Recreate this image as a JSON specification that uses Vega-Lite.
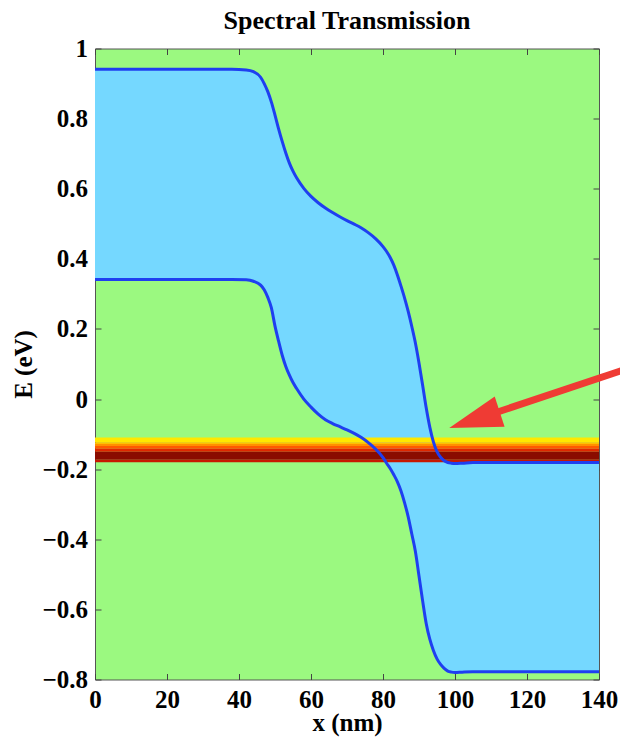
{
  "$schema": "https://vega.github.io/schema/vega-lite/v6.json",
  "width": 504,
  "height": 631,
  "autosize": {"type": "none"},
  "padding": {"left": 95, "top": 48.5, "right": 21, "bottom": 58.5},
  "background": "white",
  "view": {"fill": "#9BF980", "stroke": "#555555", "strokeWidth": 1},
  "title": {"text": "Spectral Transmission", "font": "Liberation Serif", "fontSize": 26, "fontWeight": "bold", "color": "black", "baseline": "alphabetic", "offset": 7.5, "dy": 26, "anchor": "middle"},
  "config": {
    "axis": {"labelFont": "Liberation Serif", "labelFontSize": 25, "labelFontWeight": "bold", "labelColor": "black", "titleFont": "Liberation Serif", "titleFontSize": 25, "titleFontWeight": "bold", "titleColor": "black", "tickSize": -6, "tickColor": "#444444", "tickWidth": 1, "domain": false, "grid": false, "zindex": 1, "labelOverlap": false, "labelFlush": false}
  },
  "datasets": {
    "curves": [
      {"x": 0, "upper": 0.941, "lower": 0.341},
      {"x": 10, "upper": 0.941, "lower": 0.341},
      {"x": 20, "upper": 0.941, "lower": 0.341},
      {"x": 30, "upper": 0.941, "lower": 0.341},
      {"x": 38, "upper": 0.941, "lower": 0.341},
      {"x": 42, "upper": 0.939, "lower": 0.340},
      {"x": 44, "upper": 0.934, "lower": 0.336},
      {"x": 46, "upper": 0.918, "lower": 0.325},
      {"x": 47, "upper": 0.900, "lower": 0.312},
      {"x": 48, "upper": 0.877, "lower": 0.290},
      {"x": 49, "upper": 0.847, "lower": 0.260},
      {"x": 50, "upper": 0.810, "lower": 0.208},
      {"x": 51, "upper": 0.771, "lower": 0.165},
      {"x": 52, "upper": 0.735, "lower": 0.125},
      {"x": 53, "upper": 0.702, "lower": 0.093},
      {"x": 54, "upper": 0.673, "lower": 0.068},
      {"x": 55, "upper": 0.650, "lower": 0.047},
      {"x": 56, "upper": 0.631, "lower": 0.030},
      {"x": 58, "upper": 0.601, "lower": 0.000},
      {"x": 60, "upper": 0.578, "lower": -0.023},
      {"x": 62, "upper": 0.560, "lower": -0.043},
      {"x": 64, "upper": 0.545, "lower": -0.059},
      {"x": 66, "upper": 0.532, "lower": -0.070},
      {"x": 68, "upper": 0.520, "lower": -0.079},
      {"x": 70, "upper": 0.509, "lower": -0.088},
      {"x": 72, "upper": 0.499, "lower": -0.098},
      {"x": 74, "upper": 0.488, "lower": -0.110},
      {"x": 76, "upper": 0.474, "lower": -0.125},
      {"x": 78, "upper": 0.457, "lower": -0.143},
      {"x": 80, "upper": 0.435, "lower": -0.167},
      {"x": 81, "upper": 0.421, "lower": -0.183},
      {"x": 82, "upper": 0.404, "lower": -0.198},
      {"x": 83, "upper": 0.382, "lower": -0.216},
      {"x": 84, "upper": 0.354, "lower": -0.236},
      {"x": 85, "upper": 0.322, "lower": -0.262},
      {"x": 86, "upper": 0.288, "lower": -0.296},
      {"x": 87, "upper": 0.250, "lower": -0.336},
      {"x": 88, "upper": 0.207, "lower": -0.385},
      {"x": 89, "upper": 0.160, "lower": -0.435},
      {"x": 90, "upper": 0.103, "lower": -0.505},
      {"x": 91, "upper": 0.040, "lower": -0.575},
      {"x": 92, "upper": -0.025, "lower": -0.640},
      {"x": 93, "upper": -0.080, "lower": -0.685},
      {"x": 94, "upper": -0.122, "lower": -0.717},
      {"x": 95, "upper": -0.150, "lower": -0.741},
      {"x": 96, "upper": -0.166, "lower": -0.757},
      {"x": 97, "upper": -0.176, "lower": -0.768},
      {"x": 98, "upper": -0.181, "lower": -0.776},
      {"x": 99, "upper": -0.183, "lower": -0.779},
      {"x": 100, "upper": -0.184, "lower": -0.780},
      {"x": 102, "upper": -0.183, "lower": -0.779},
      {"x": 105, "upper": -0.181, "lower": -0.778},
      {"x": 110, "upper": -0.181, "lower": -0.778},
      {"x": 120, "upper": -0.181, "lower": -0.778},
      {"x": 130, "upper": -0.181, "lower": -0.778},
      {"x": 140, "upper": -0.181, "lower": -0.778}
    ],
    "band": [
      {"top": -0.110, "bottom": -0.123, "c": "#FFE800"},
      {"top": -0.123, "bottom": -0.128, "c": "#FFC000"},
      {"top": -0.128, "bottom": -0.134, "c": "#FF9000"},
      {"top": -0.134, "bottom": -0.142, "c": "#FF5A00"},
      {"top": -0.142, "bottom": -0.150, "c": "#E02800"},
      {"top": -0.150, "bottom": -0.173, "c": "#8A0C00"},
      {"top": -0.173, "bottom": -0.180, "c": "#C81800"}
    ],
    "arrow": [
      {"x": 105.4, "e": -0.059, "xend": 150, "eend": 0.094}
    ]
  },
  "layer": [
    {
      "data": {"name": "curves"},
      "mark": {"type": "area", "interpolate": "monotone", "color": "#75D8FF"},
      "encoding": {
        "x": {"field": "x", "type": "quantitative", "scale": {"domain": [0, 140], "nice": false, "zero": false},
              "axis": {"orient": "bottom", "values": [0, 20, 40, 60, 80, 100, 120, 140], "title": "x (nm)", "labelBaseline": "alphabetic", "labelPadding": 33.5, "titleBaseline": "alphabetic", "titleY": 51, "titleX": 252}},
        "y": {"field": "upper", "type": "quantitative", "scale": {"domain": [-0.8, 1], "nice": false, "zero": false},
              "axis": {"orient": "left", "values": [-0.8, -0.6, -0.4, -0.2, 0, 0.2, 0.4, 0.6, 0.8, 1], "format": "~g", "title": "E (eV)", "labelPadding": 13.5, "titleAngle": -90, "titleBaseline": "middle", "titleX": -72, "titleY": 315.5}},
        "y2": {"field": "lower"}
      }
    },
    {
      "data": {"name": "band"},
      "mark": {"type": "rect"},
      "encoding": {
        "x": {"datum": 0, "type": "quantitative", "scale": {"domain": [0, 140], "nice": false, "zero": false}, "axis": null},
        "x2": {"datum": 140},
        "y": {"field": "top", "type": "quantitative", "scale": {"domain": [-0.8, 1], "nice": false, "zero": false}, "axis": null},
        "y2": {"field": "bottom"},
        "color": {"field": "c", "type": "nominal", "scale": null, "legend": null}
      }
    },
    {
      "data": {"name": "curves"},
      "mark": {"type": "line", "interpolate": "monotone", "color": "#1F3FF0", "strokeWidth": 3},
      "encoding": {
        "x": {"field": "x", "type": "quantitative", "scale": {"domain": [0, 140], "nice": false, "zero": false}, "axis": null},
        "y": {"field": "lower", "type": "quantitative", "scale": {"domain": [-0.8, 1], "nice": false, "zero": false}, "axis": null}
      }
    },
    {
      "data": {"name": "curves"},
      "mark": {"type": "line", "interpolate": "monotone", "color": "#1F3FF0", "strokeWidth": 3},
      "encoding": {
        "x": {"field": "x", "type": "quantitative", "scale": {"domain": [0, 140], "nice": false, "zero": false},
              "axis": {"orient": "top", "values": [0, 20, 40, 60, 80, 100, 120, 140], "labels": false, "title": null}},
        "y": {"field": "upper", "type": "quantitative", "scale": {"domain": [-0.8, 1], "nice": false, "zero": false},
              "axis": {"orient": "right", "values": [-0.8, -0.6, -0.4, -0.2, 0, 0.2, 0.4, 0.6, 0.8, 1], "labels": false, "title": null}}
      }
    },
    {
      "data": {"name": "arrow"},
      "mark": {"type": "rule", "color": "#EF3B34", "strokeWidth": 7, "strokeCap": "butt", "clip": false},
      "encoding": {
        "x": {"field": "x", "type": "quantitative", "scale": {"domain": [0, 140], "nice": false, "zero": false}, "axis": null},
        "y": {"field": "e", "type": "quantitative", "scale": {"domain": [-0.8, 1], "nice": false, "zero": false}, "axis": null},
        "x2": {"field": "xend"},
        "y2": {"field": "eend"}
      }
    },
    {
      "data": {"name": "arrow"},
      "mark": {"type": "point", "shape": "M -1 0 L 1 -0.6 L 1 0.6 Z", "filled": true, "color": "#EF3B34", "opacity": 1, "size": 2809, "angle": 342, "strokeWidth": 0, "clip": false},
      "encoding": {
        "x": {"field": "x", "type": "quantitative", "scale": {"domain": [0, 140], "nice": false, "zero": false}, "axis": null},
        "y": {"field": "e", "type": "quantitative", "scale": {"domain": [-0.8, 1], "nice": false, "zero": false}, "axis": null}
      }
    }
  ],
  "resolve": {"axis": {"x": "independent", "y": "independent"}}
}
